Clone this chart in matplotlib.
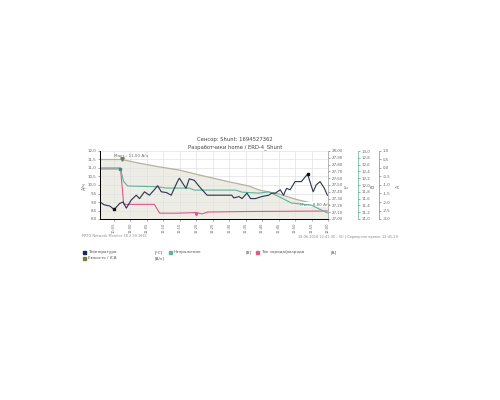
import numpy as np
import matplotlib.pyplot as plt
from matplotlib.ticker import FuncFormatter

plt.rcParams['font.family'] = ['DejaVu Sans']

# time in minutes after 10:55
tick_mins = list(range(0, 70, 5))
tick_labels = ["10:55", "11:00", "11:05", "11:10", "11:15", "11:20", "11:25",
               "11:30", "11:35", "11:40", "11:45", "11:50", "11:55", "12:00"]

# Temperature [°C]
temp_t = [-4.2, -3.0, -1.2, 0.1, 1.8, 2.8, 3.8, 5.3, 6.8, 7.8, 9.3, 10.8, 12.3, 13.3,
          14.4, 15.9, 17.4, 19.4, 19.9, 21.9, 22.9, 24.4, 25.9, 26.8, 28.3, 35.8, 36.4,
          38.0, 38.9, 40.4, 41.5, 43.0, 44.9, 47.0, 47.9, 49.0, 50.5, 51.5, 52.4, 53.5,
          55.0, 56.9, 58.8, 60.5, 61.4, 62.6, 63.9, 64.8]
temp_v = [27.25, 27.21, 27.19, 27.14, 27.23, 27.25, 27.16, 27.28, 27.35, 27.30, 27.40,
          27.35, 27.43, 27.49, 27.40, 27.39, 27.35, 27.56, 27.60, 27.45, 27.59, 27.57,
          27.48, 27.43, 27.35, 27.35, 27.31, 27.33, 27.30, 27.38, 27.30, 27.30, 27.33,
          27.35, 27.38, 27.38, 27.43, 27.35, 27.45, 27.43, 27.55, 27.55, 27.66, 27.40,
          27.50, 27.55, 27.45, 27.35]

# Capacity [А/ч]
cap_t = [-4.2, 2.4, 7.8, 13.9, 19.9, 25.9, 34.9, 41.0, 44.0, 50.0, 56.0, 60.5, 64.8]
cap_v = [11.5, 11.5, 11.28, 11.06, 10.88, 10.59, 10.19, 9.94, 9.71, 9.47, 9.12, 8.92, 8.80]

# Voltage [В]
volt_t = [-4.2, 2.0, 3.0, 4.2, 13.0, 16.0, 22.9, 24.4, 37.0, 38.9, 44.0, 47.0, 50.9,
          53.9, 59.9, 64.8]
volt_v = [12.47, 12.47, 12.10, 11.97, 11.95, 11.91, 11.91, 11.85, 11.85, 11.79, 11.76,
          11.80, 11.62, 11.47, 11.41, 11.18]

# Current [А]
cur_t = [-4.2, 2.0, 3.0, 12.3, 13.9, 18.9, 25.0, 26.8, 28.5, 40.0, 50.0, 64.8]
cur_v = [0.0, 0.0, -2.14, -2.14, -2.66, -2.66, -2.62, -2.70, -2.59, -2.56, -2.55, -2.53]

c_temp = "#2a3350"
c_volt = "#5db39c"
c_cur = "#e0588c"
c_cap = "#b4b49c"
c_txt = "#666666"

fig = plt.figure(figsize=(5, 4), dpi=100)
ax = fig.add_axes([0.2, 1 - 219 / 400, 228 / 500, 68 / 400])

comma1 = FuncFormatter(lambda v, p: ("%.1f" % v).replace(".", ","))
comma2 = FuncFormatter(lambda v, p: ("%.2f" % v).replace(".", ","))

# capacity area
ax.fill_between(cap_t, cap_v, 8, color="#ededE6", zorder=1)
ax.set_xlim(-4.2, 65)
ax.set_ylim(8, 12)
ax.set_xticks(tick_mins)
ax.set_xticklabels(tick_labels, rotation=90)
ax.set_yticks(np.arange(8, 12.01, 0.5))
ax.yaxis.set_major_formatter(comma1)
ax.grid(True, color="#e2e2e2", lw=0.5, zorder=2)
ax.plot(cap_t, cap_v, color=c_cap, lw=0.9, zorder=3)
ax.plot([2.4], [11.5], marker="v", ms=2.5, color="#777760", zorder=4)
ax.text(0.2, 11.62, "Макс.: 11,50 А/ч", fontsize=3.0, color=c_txt, zorder=5)
ax.text(56.5, 8.78, "Мин.: 8,80 А/ч", fontsize=3.0, color=c_txt, zorder=5,
        bbox=dict(facecolor="white", edgecolor="none", pad=0.3))

ax_c = ax.twinx()
ax_c.plot(cur_t, cur_v, color=c_cur, lw=0.8)
ax_c.plot([25.0], [-2.72], marker="v", ms=1.8, color=c_cur)
ax_c.set_ylim(-3, 1)
ax_c.set_yticks(np.arange(-3, 1.01, 0.5))
ax_c.yaxis.set_major_formatter(comma1)
ax_c.spines["right"].set_position(("axes", 1.224))
ax_c.spines["right"].set_color(c_cur)

ax_v = ax.twinx()
ax_v.plot(volt_t, volt_v, color=c_volt, lw=0.8)
ax_v.plot([2.0], [12.47], marker="s", ms=1.8, color="#3c8c78")
ax_v.set_ylim(11, 13)
ax_v.set_yticks(np.arange(11, 13.01, 0.2))
ax_v.yaxis.set_major_formatter(comma1)
ax_v.spines["right"].set_position(("axes", 1.13))
ax_v.spines["right"].set_color(c_volt)

ax_t = ax.twinx()
ax_t.plot(temp_t, temp_v, color=c_temp, lw=0.8)
ax_t.plot([0.1, 58.8], [27.14, 27.66], ls="none", marker="s", ms=1.6, color="#111111")
ax_t.set_ylim(27, 28)
ax_t.set_yticks(np.arange(27, 28.01, 0.1))
ax_t.yaxis.set_major_formatter(comma2)
ax_t.spines["right"].set_color("#999999")

for a in (ax, ax_c, ax_v, ax_t):
    a.tick_params(labelsize=2.9, colors=c_txt, length=1.5, width=0.4, pad=1)
    a.spines["top"].set_visible(False)
    for s in a.spines.values():
        s.set_linewidth(0.5)
ax.tick_params(axis="x", labelsize=2.6)
ax.spines["left"].set_color("#999999")
ax.spines["bottom"].set_color("#999999")
ax.spines["right"].set_visible(False)

# axis titles
fig.text(84 / 500, 1 - 186 / 400, "А/ч", rotation=90, fontsize=3.4, color=c_txt,
         ha="center", va="center")
fig.text(347 / 500, 1 - 186 / 400, "t°", rotation=90, fontsize=3.4, color=c_txt,
         ha="center", va="center")
fig.text(373 / 500, 1 - 186 / 400, "В", rotation=90, fontsize=3.4, color=c_txt,
         ha="center", va="center")
fig.text(398 / 500, 1 - 186 / 400, "А", rotation=90, fontsize=3.4, color=c_txt,
         ha="center", va="center")

# titles
fig.text(235 / 500, 1 - 140 / 400, "Сенсор: Shunt: 1694527362", fontsize=3.8,
         color="#444444", ha="center", va="center")
fig.text(235 / 500, 1 - 147 / 400, "Разработчики home / ERD-4_Shunt", fontsize=3.8,
         color="#444444", ha="center", va="center")

# footers
fig.text(82 / 500, 1 - 236 / 400, "PRTG Network Monitor 18.2.39.1661", fontsize=2.5,
         color="#888888", va="center")
fig.text(398 / 500, 1 - 237 / 400,
         "18.06.2018 12:41:30 - (0) | Серверное время: 12:41:29", fontsize=2.5,
         color="#888888", va="center", ha="right")

# legend
legend_rows = [
    (83, 252, "#1f2a4a", "Температура", "[°C]", 155),
    (169, 252, c_volt, "Напряжение", "[В]", 246),
    (256, 252, c_cur, "Ток заряда/разряда", "[А]", 331),
    (83, 258, "#7d7d3a", "Емкость / ICA", "[А/ч]", 155),
]
for x0, y0, col, name, unit, ux in legend_rows:
    fig.patches.append(plt.Rectangle((x0 / 500, 1 - (y0 + 1.5) / 400), 3 / 500, 3 / 400,
                                     transform=fig.transFigure, color=col))
    fig.text((x0 + 5) / 500, 1 - y0 / 400, name, fontsize=3.0, color="#555555",
             va="center")
    fig.text(ux / 500, 1 - y0 / 400, unit, fontsize=3.0, color="#555555", va="center")

fig.savefig("out.png", dpi=100, facecolor="white")
